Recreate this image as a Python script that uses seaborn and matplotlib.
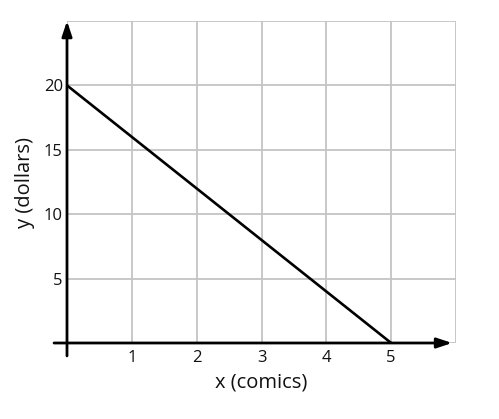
import matplotlib
matplotlib.use("Agg")
import matplotlib.pyplot as plt
import seaborn as sns
import pandas as pd

# line data: y = cost in dollars, x = comics
comics = [0, 5]
dollars = [20, 0]

x_ticks = [0, 1, 2, 3, 4, 5, 6]
x_labels = ["", "1", "2", "3", "4", "5", ""]
y_ticks = [0, 5, 10, 15, 20, 25]
y_labels = ["", "5", "10", "15", "20", ""]

sns.set_style("white")
plt.rcParams['font.family'] = ['Open Sans', 'DejaVu Sans']

fig = plt.figure(figsize=(4.99, 4.19), dpi=100)
ax = fig.add_axes([67/499, (419-343)/419, (456-67)/499, (343-21)/419])

df = pd.DataFrame({"x": comics, "y": dollars})
sns.lineplot(data=df, x="x", y="y", ax=ax, color="black", linewidth=1.9, zorder=5)

ax.set_xlim(0, 6)
ax.set_ylim(0, 25)
ax.set_xticks(x_ticks)
ax.set_xticklabels(x_labels)
ax.set_yticks(y_ticks)
ax.set_yticklabels(y_labels)
ax.grid(True, color="#c4c4c4", linewidth=1.3)
ax.tick_params(axis="x", length=0, labelsize=12, labelcolor="#111111", pad=5)
ax.tick_params(axis="y", length=0, labelsize=12, labelcolor="#111111", pad=3)
for s in ax.spines.values():
    s.set_visible(False)

# axes with arrows
ax.annotate("", xy=(5.94, 0), xytext=(-0.2, 0), xycoords="data",
            arrowprops=dict(arrowstyle="-|>,head_length=0.9,head_width=0.3", color="black", lw=2, shrinkA=0, shrinkB=0),
            annotation_clip=False, zorder=6)
ax.annotate("", xy=(0, 25), xytext=(0, -1), xycoords="data",
            arrowprops=dict(arrowstyle="-|>,head_length=0.9,head_width=0.3", color="black", lw=2, shrinkA=0, shrinkB=0),
            annotation_clip=False, zorder=6)

ax.set_xlabel("x (comics)", fontsize=14.5, color="#111111", labelpad=5)
ax.set_ylabel("y (dollars)", fontsize=14.5, color="#111111", labelpad=6)

fig.savefig("out.png", dpi=100)
